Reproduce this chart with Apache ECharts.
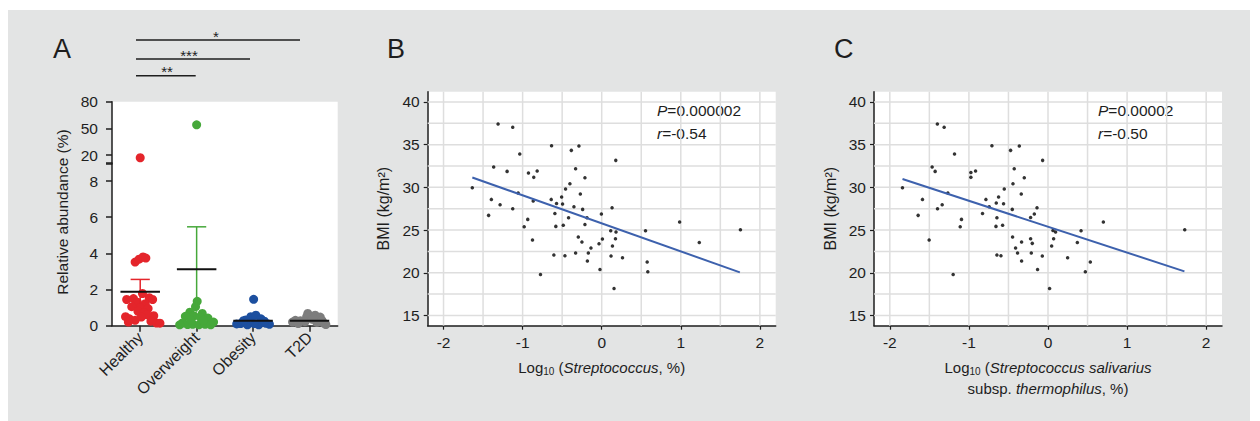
<!DOCTYPE html>
<html>
<head>
<meta charset="utf-8">
<script src="https://cdn.jsdelivr.net/npm/echarts@6/dist/echarts.min.js"></script>
<style>
  html, body { margin: 0; padding: 0; background: #fff; }
  #wrap { position: relative; width: 1260px; height: 421px; }
  #bg { position: absolute; left: 8px; top: 10px; width: 1242px; height: 411px; background: #e3e4e4; }
  #chart { position: absolute; left: 0; top: 0; width: 1260px; height: 421px; }
</style>
</head>
<body>
<div id="wrap"><div id="bg"></div><div id="chart"></div></div>
<script>
const FONT = '"Liberation Sans", Arial, sans-serif'
const INK = '#1e1e1e'

// panel A: groups, colours and points as [jitter, relative abundance %]
const groups = ['Healthy', 'Overweight', 'Obesity', 'T2D']
const groupColors = ['#e4252b', '#46a83a', '#1c4f9f', '#7d7d7d']
const healthy = [
  [0.00, 17.0],
  [-0.09, 3.52], [-0.02, 3.68], [0.05, 3.80], [0.10, 3.74],
  [-0.24, 1.45], [-0.12, 1.50], [0.04, 1.78], [0.16, 1.55], [0.22, 1.45], [-0.05, 1.30],
  [0.09, 1.22], [-0.15, 1.05], [0.00, 1.00], [0.14, 0.95], [-0.04, 0.80], [0.07, 0.72],
  [-0.26, 0.50], [-0.19, 0.38], [0.24, 0.55], [0.12, 0.60], [-0.09, 0.30], [-0.21, 0.20],
  [0.19, 0.25], [0.29, 0.15], [0.35, 0.14], [0.02, 0.48]
]
const overweight = [
  [0.00, 54.0],
  [0.01, 1.35], [-0.02, 1.05], [-0.12, 0.75], [0.10, 0.68], [-0.20, 0.52], [0.20, 0.42],
  [-0.05, 0.55], [0.06, 0.48], [-0.25, 0.15], [-0.16, 0.06], [-0.07, 0.08], [0.04, 0.05],
  [0.15, 0.08], [0.25, 0.05], [0.30, 0.20], [-0.30, 0.05], [0.12, 0.30], [-0.10, 0.30]
]
const obesity = [
  [0.01, 1.46], [-0.13, 0.32], [-0.04, 0.50], [0.05, 0.58], [0.14, 0.38], [0.23, 0.13],
  [0.29, 0.08], [-0.22, 0.12], [-0.29, 0.10], [0.10, 0.05], [-0.10, 0.05], [0.02, 0.12],
  [-0.17, 0.28], [0.20, 0.25]
]
const t2d = [
  [-0.03, 0.68], [-0.05, 0.50], [0.10, 0.58], [0.19, 0.48], [-0.25, 0.30], [-0.16, 0.28],
  [0.25, 0.15], [0.29, 0.06], [-0.30, 0.20], [-0.08, 0.22], [0.13, 0.18], [0.05, 0.35],
  [-0.20, 0.12], [0.22, 0.30]
]
const groupMeans = [1.88, 3.12, 0.28, 0.27]
const groupSem = [0.68, 2.35, 0.10, 0.05]
const upperTicks = [20, 50, 80]
const lowerTicks = [0, 2, 4, 6, 8]

// panels B and C: [log10 abundance, BMI]
const strepB = [
  [-1.31, 37.42], [-1.125, 37.03], [-0.634, 34.88], [-1.036, 33.9], [-1.366, 32.38],
  [-1.196, 31.87], [-0.926, 31.68], [-0.816, 31.92], [-0.859, 31.17], [-1.636, 29.96],
  [-0.457, 29.8], [-0.402, 30.43], [-0.384, 34.33], [-0.288, 34.84], [0.178, 33.16],
  [-0.33, 32.19], [-0.212, 31.13], [-1.056, 29.34], [-1.395, 28.59], [-1.285, 27.97],
  [-1.125, 27.5], [-0.866, 28.4], [-1.43, 26.72], [-0.935, 26.25], [-0.98, 25.39],
  [-0.875, 23.83], [-0.774, 19.8], [-0.605, 22.08], [-0.465, 21.99], [-0.638, 28.59],
  [-0.507, 28.87], [-0.571, 28.12], [-0.495, 28.05], [-0.592, 26.95], [-0.419, 26.45],
  [-0.58, 25.43], [-0.486, 25.55], [-0.27, 29.22], [-0.351, 27.73], [-0.241, 27.42],
  [-0.186, 26.45], [-0.212, 25.66], [-0.004, 26.88], [0.131, 27.62], [-0.296, 24.18],
  [-0.25, 23.6], [-0.33, 22.31], [-0.136, 22.9], [-0.169, 22.31], [-0.181, 21.37],
  [-0.034, 23.4], [0.009, 23.95], [-0.022, 20.39], [0.114, 24.92], [0.181, 24.77],
  [0.174, 23.98], [0.136, 23.13], [0.118, 21.96], [0.263, 21.76], [0.156, 18.16],
  [0.554, 24.92], [0.575, 21.26], [0.583, 20.12], [0.985, 25.94], [1.234, 23.55],
  [1.754, 25.04]
]
const fitB = [[-1.636, 31.15], [1.747, 20.05]]
const strepC = [
  [-1.399, 37.42], [-1.313, 37.03], [-0.709, 34.88], [-1.182, 33.9], [-1.465, 32.38],
  [-1.427, 31.87], [-0.975, 31.75], [-0.916, 31.92], [-0.975, 31.17], [-1.84, 29.96],
  [-0.553, 29.8], [-0.473, 34.33], [-0.363, 34.84], [-0.427, 32.19], [-0.443, 30.43],
  [-0.068, 33.16], [-0.3, 31.13], [-1.266, 29.34], [-1.587, 28.59], [-1.338, 27.97],
  [-1.397, 27.5], [-1.642, 26.72], [-1.094, 26.25], [-1.11, 25.39], [-1.503, 23.83],
  [-1.199, 19.8], [-0.646, 22.08], [-0.595, 21.99], [-0.785, 28.59], [-0.625, 28.87],
  [-0.654, 28.17], [-0.562, 28.09], [-0.743, 27.73], [-0.828, 26.95], [-0.646, 26.45],
  [-0.658, 25.43], [-0.574, 25.55], [-0.452, 27.42], [-0.448, 24.18], [-0.41, 22.9],
  [-0.385, 22.31], [-0.338, 29.22], [-0.139, 27.62], [-0.173, 26.88], [-0.22, 26.48],
  [-0.334, 23.6], [-0.334, 21.37], [-0.22, 23.98], [-0.199, 23.44], [-0.211, 22.31],
  [-0.072, 21.96], [-0.132, 20.39], [0.063, 24.96], [0.096, 24.77], [0.071, 23.98],
  [0.046, 23.13], [0.02, 18.16], [0.248, 21.76], [0.418, 24.92], [0.371, 23.55],
  [0.535, 21.26], [0.472, 20.12], [0.7, 25.94], [1.729, 25.04]
]
const fitC = [[-1.84, 30.98], [1.725, 20.16]]
const bmiTicks = [15, 20, 25, 30, 35, 40]
const bmiGrid = [15, 17.5, 20, 22.5, 25, 27.5, 30, 32.5, 35, 37.5, 40]
const logTicks = [-2, -1, 0, 1, 2]
const logGrid = [-2, -1.5, -1, -0.5, 0, 0.5, 1, 1.5, 2]

const BREAK = 9 // values above this go to the upper (compressed) segment
const BMI_RANGE = [13.8, 41.2]
const LOG_RANGE = [-2.2, 2.2]

// plot rectangles: [left, top, width, height]
const boxA = [112, 101.7, 225.7, 224]
const boxB = [427.7, 91.7, 348, 234]
const boxC = [874, 91.7, 348, 234]

let myChart = echarts.init(document.getElementById('chart'), null, { renderer: 'svg' })

const axisLine = { show: true, onZero: false, lineStyle: { color: INK, width: 1.5 } }
const labelStyle = { fontFamily: FONT, fontSize: 15.5, color: INK }

function bmiAxis (grid) {
  return {
    gridIndex: grid, type: 'value', min: BMI_RANGE[0], max: BMI_RANGE[1], position: 'left',
    axisLine: axisLine,
    axisTick: { show: true, length: 4, customValues: bmiTicks, lineStyle: { color: INK, width: 1.2 } },
    axisLabel: Object.assign({ customValues: bmiTicks, margin: 8 }, labelStyle),
    splitLine: { show: false },
    name: 'BMI (kg/m²)', nameLocation: 'middle', nameGap: 36,
    nameTextStyle: { fontFamily: FONT, fontSize: 16, color: INK }
  }
}
const nameRich = {
  n: { fontFamily: FONT, fontSize: 15, color: INK, lineHeight: 21 },
  i: { fontFamily: FONT, fontSize: 15, color: INK, fontStyle: 'italic', lineHeight: 21 },
  s: { fontFamily: FONT, fontSize: 10, color: INK, lineHeight: 13, padding: [8, 0, 0, 0] }
}
function logAxis (grid, name) {
  return {
    gridIndex: grid, type: 'value', min: LOG_RANGE[0], max: LOG_RANGE[1], position: 'bottom',
    axisLine: axisLine,
    axisTick: { show: true, length: 4, customValues: logTicks, lineStyle: { color: INK, width: 1.2 } },
    axisLabel: Object.assign({ customValues: logTicks, margin: 9 }, labelStyle),
    splitLine: { show: false },
    name: name, nameLocation: 'middle', nameGap: 31,
    nameTextStyle: { fontFamily: FONT, fontSize: 15, color: INK, rich: nameRich }
  }
}
// light background grid of a scatter panel: [0, bmi] horizontal, [1, log] vertical
function gridLines (xi, yi) {
  const rows = bmiGrid.map(v => [0, v]).concat(logGrid.map(v => [1, v]))
  return {
    type: 'custom', xAxisIndex: xi, yAxisIndex: yi, z: 1, silent: true,
    data: rows,
    renderItem: function (params, api) {
      const kind = api.value(0), v = api.value(1)
      let a, b
      if (kind === 0) {
        a = api.coord([LOG_RANGE[0], v]); b = api.coord([LOG_RANGE[1], v])
      } else {
        a = api.coord([v, BMI_RANGE[0]]); b = api.coord([v, BMI_RANGE[1]])
      }
      return { type: 'line', shape: { x1: a[0], y1: a[1], x2: b[0], y2: b[1] }, style: { stroke: '#dedede', lineWidth: 1.5 } }
    }
  }
}

const pointSets = [healthy, overweight, obesity, t2d]
const dotSeries = []
pointSets.forEach(function (pts, g) {
  const low = pts.filter(p => p[1] <= BREAK).map(p => [g + p[0], p[1]])
  const high = pts.filter(p => p[1] > BREAK).map(p => [g + p[0], p[1]])
  dotSeries.push({
    type: 'scatter', xAxisIndex: 2, yAxisIndex: 1, data: low, symbolSize: 9,
    itemStyle: { color: groupColors[g], opacity: 1 }, z: 3, silent: true
  })
  if (high.length) {
    dotSeries.push({
      type: 'scatter', xAxisIndex: 0, yAxisIndex: 0, data: high, symbolSize: 9,
      itemStyle: { color: groupColors[g], opacity: 1 }, z: 3, silent: true
    })
  }
})

function whiteBox (b) {
  return { type: 'rect', z: -10, silent: true, shape: { x: b[0], y: b[1], width: b[2], height: b[3] }, style: { fill: '#fff' } }
}

const gridBase = { show: false, outerBoundsMode: 'none' }
const option = {
  animation: false,
  backgroundColor: 'transparent',
  textStyle: { fontFamily: FONT },
  grid: [
    Object.assign({ left: 112, top: 101.7, width: 225.7, height: 62.3 }, gridBase),
    Object.assign({ left: 112, top: 163, width: 225.7, height: 162.7 }, gridBase),
    Object.assign({ left: boxB[0], top: boxB[1], width: boxB[2], height: boxB[3] }, gridBase),
    Object.assign({ left: boxC[0], top: boxC[1], width: boxC[2], height: boxC[3] }, gridBase)
  ],
  xAxis: [
    { gridIndex: 0, type: 'value', min: -0.5, max: 3.5, show: false, axisLine: { onZero: false } },
    {
      gridIndex: 1, type: 'category', data: groups, position: 'bottom',
      axisLine: axisLine,
      axisTick: { show: true, alignWithLabel: true, length: 6, lineStyle: { color: INK, width: 1.5 } },
      axisLabel: Object.assign({ rotate: 45, margin: 9, interval: 0 }, labelStyle, { fontSize: 16 })
    },
    { gridIndex: 1, type: 'value', min: -0.5, max: 3.5, show: false, position: 'bottom', axisLine: { onZero: false } },
    logAxis(2, '{n|Log}{s|10}{n| (}{i|Streptococcus}{n|, %)}'),
    logAxis(3, '{n|Log}{s|10}{n| (}{i|Streptococcus salivarius}\n{n|subsp. }{i|thermophilus}{n|, %)}')
  ],
  yAxis: [
    {
      gridIndex: 0, type: 'value', min: 10, max: 80, position: 'left',
      axisLine: axisLine,
      axisTick: { show: true, length: 6, customValues: [10].concat(upperTicks), lineStyle: { color: INK, width: 1.5 } },
      axisLabel: Object.assign({ customValues: upperTicks, margin: 14 }, labelStyle),
      splitLine: { show: false }
    },
    {
      gridIndex: 1, type: 'value', min: 0, max: BREAK, position: 'left',
      axisLine: axisLine,
      axisTick: { show: true, length: 6, customValues: lowerTicks.concat([BREAK]), lineStyle: { color: INK, width: 1.5 } },
      axisLabel: Object.assign({ customValues: lowerTicks, margin: 14 }, labelStyle),
      splitLine: { show: false }
    },
    bmiAxis(2),
    bmiAxis(3)
  ],
  series: dotSeries.concat([
    {
      type: 'custom', xAxisIndex: 2, yAxisIndex: 1, z: 5, silent: true,
      data: groups.map((g, i) => [i, groupMeans[i], groupSem[i]]),
      renderItem: function (params, api) {
        const i = api.value(0), m = api.value(1), s = api.value(2)
        const c = api.coord([i, m])
        const top = api.coord([i, m + s])
        const bot = api.coord([i, m - s])
        const half = api.size([0.35, 0])[0]
        const cap = api.size([0.17, 0])[0]
        const col = groupColors[params.dataIndex]
        return {
          type: 'group',
          children: [
            { type: 'line', shape: { x1: c[0], y1: bot[1], x2: c[0], y2: top[1] }, style: { stroke: col, lineWidth: 1.5 } },
            { type: 'line', shape: { x1: c[0] - cap, y1: top[1], x2: c[0] + cap, y2: top[1] }, style: { stroke: col, lineWidth: 1.5 } },
            { type: 'line', shape: { x1: c[0] - half, y1: c[1], x2: c[0] + half, y2: c[1] }, style: { stroke: '#111', lineWidth: 2 } }
          ]
        }
      }
    },
    gridLines(3, 2),
    gridLines(4, 3),
    {
      type: 'scatter', xAxisIndex: 3, yAxisIndex: 2, data: strepB, symbolSize: 3.5, z: 3,
      itemStyle: { color: '#000' }, silent: true
    },
    {
      type: 'line', xAxisIndex: 3, yAxisIndex: 2, data: fitB, symbol: 'none', z: 4,
      lineStyle: { color: '#3d61ad', width: 2 }, silent: true
    },
    {
      type: 'scatter', xAxisIndex: 4, yAxisIndex: 3, data: strepC, symbolSize: 3.5, z: 3,
      itemStyle: { color: '#000' }, silent: true
    },
    {
      type: 'line', xAxisIndex: 4, yAxisIndex: 3, data: fitC, symbol: 'none', z: 4,
      lineStyle: { color: '#3d61ad', width: 2 }, silent: true
    }
  ]),
  graphic: [
    whiteBox(boxA), whiteBox(boxB), whiteBox(boxC),
    { type: 'text', x: 53, y: 49, style: { text: 'A', font: '27px ' + FONT, fill: INK, verticalAlign: 'middle', textVerticalAlign: 'middle' } },
    { type: 'text', x: 387, y: 49, style: { text: 'B', font: '27px ' + FONT, fill: INK, verticalAlign: 'middle', textVerticalAlign: 'middle' } },
    { type: 'text', x: 834, y: 49, style: { text: 'C', font: '27px ' + FONT, fill: INK, verticalAlign: 'middle', textVerticalAlign: 'middle' } },
    {
      type: 'text', x: 62, y: 212, rotation: Math.PI / 2,
      style: { text: 'Relative abundance (%)', font: '15.5px ' + FONT, fill: INK, align: 'center', textAlign: 'center', verticalAlign: 'middle', textVerticalAlign: 'middle' }
    },
    { type: 'line', shape: { x1: 136, y1: 40, x2: 300, y2: 40 }, style: { stroke: INK, lineWidth: 1.5 } },
    { type: 'line', shape: { x1: 136, y1: 59, x2: 250, y2: 59 }, style: { stroke: INK, lineWidth: 1.5 } },
    { type: 'line', shape: { x1: 136, y1: 75.7, x2: 195.7, y2: 75.7 }, style: { stroke: INK, lineWidth: 1.5 } },
    { type: 'text', x: 216, y: 36, style: { text: '*', font: '15px ' + FONT, fill: INK, align: 'center', textAlign: 'center', verticalAlign: 'middle', textVerticalAlign: 'middle' } },
    { type: 'text', x: 189, y: 55, style: { text: '***', font: '15px ' + FONT, fill: INK, align: 'center', textAlign: 'center', verticalAlign: 'middle', textVerticalAlign: 'middle' } },
    { type: 'text', x: 167, y: 71.5, style: { text: '**', font: '15px ' + FONT, fill: INK, align: 'center', textAlign: 'center', verticalAlign: 'middle', textVerticalAlign: 'middle' } },
    {
      type: 'text', x: 657, y: 99,
      style: { text: '{i|P}{n|=0.000002}\n{i|r}{n|=-0.54}', verticalAlign: 'top', textVerticalAlign: 'top',
        rich: { i: { fontFamily: FONT, fontSize: 15.5, fontStyle: 'italic', fill: INK, lineHeight: 23 }, n: { fontFamily: FONT, fontSize: 15.5, fill: INK, lineHeight: 23 } } }
    },
    {
      type: 'text', x: 1098, y: 99,
      style: { text: '{i|P}{n|=0.00002}\n{i|r}{n|=-0.50}', verticalAlign: 'top', textVerticalAlign: 'top',
        rich: { i: { fontFamily: FONT, fontSize: 15.5, fontStyle: 'italic', fill: INK, lineHeight: 23 }, n: { fontFamily: FONT, fontSize: 15.5, fill: INK, lineHeight: 23 } } }
    }
  ]
}
myChart.setOption(option)
window.addEventListener('resize', function () {
  myChart.resize()
})
</script>
</body>
</html>
